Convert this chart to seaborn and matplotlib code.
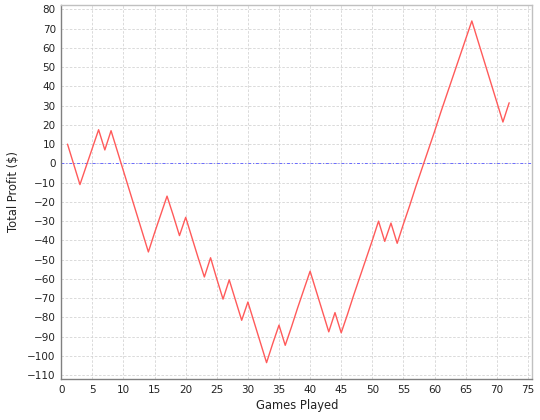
import matplotlib
matplotlib.use("Agg")
import matplotlib.pyplot as plt
import seaborn as sns
import pandas as pd

# --- data ---
games = list(range(1, 73))
profit = [
    10, -0.5, -11, -1.5, 8, 17.5, 7, 17, 6.5, -4,
    -14.5, -25, -35.5, -46, -36, -26.5, -17, -27, -37.5, -28,
    -38.5, -49, -59, -49, -60, -70.5, -60.5, -71, -81.5, -72,
    -82.5, -93, -103.5, -93.5, -84, -94.5, -85, -75, -65.5, -56,
    -66.5, -77, -87.5, -77.5, -88, -78.5, -68.5, -59, -49.5, -40,
    -30, -40.5, -31, -41.5, -31.5, -22, -12, -2.5, 7, 16.5,
    26.5, 36, 45.5, 55, 64.5, 74, 63.5, 53, 42.5, 32,
    21.5, 31.5,
]
x_ticks = list(range(0, 80, 5))
y_ticks = list(range(-110, 90, 10))

df = pd.DataFrame({"Games Played": games, "Total Profit ($)": profit})

sns.set_style("white")
plt.rcParams['font.family'] = ['DejaVu Sans']

fig = plt.figure(figsize=(5.4, 4.2), dpi=100)
ax = fig.add_axes([0.1135, 0.0976, 0.872, 0.891])

# zero line
ax.axhline(0, color="#6a6aff", lw=0.7, ls=(0, (3, 2, 1, 2)), zorder=1)
sns.lineplot(data=df, x="Games Played", y="Total Profit ($)", ax=ax,
             color="#ff5a5a", lw=1.0, zorder=3)

ax.set_xlim(0, 75.7)
ax.set_ylim(-112, 82.4)
ax.set_xticks(x_ticks)
ax.set_yticks(y_ticks)
ax.grid(True, color="#d4d4d4", lw=0.6, ls=(0, (3, 2)))
ax.set_axisbelow(True)

for s in ["left", "bottom"]:
    ax.spines[s].set_color("#808080")
    ax.spines[s].set_linewidth(1.0)
for s in ["top", "right"]:
    ax.spines[s].set_color("#c0c0c0")
    ax.spines[s].set_linewidth(1.0)

ax.tick_params(axis="both", labelsize=7.5, length=2, width=0.6,
               color="#808080", pad=2, labelcolor="#222222")
ax.set_xlabel("Games Played", fontsize=8.3, labelpad=3, color="#222222")
ax.set_ylabel("Total Profit ($)", fontsize=8.3, labelpad=5, color="#222222")

fig.savefig("out.png", dpi=100)
